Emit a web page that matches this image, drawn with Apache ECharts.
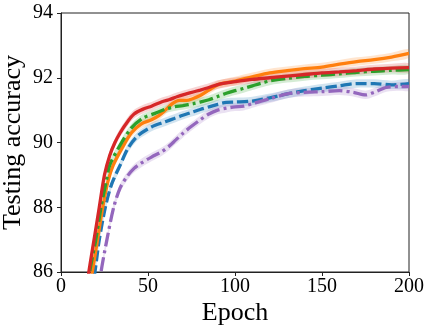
<!DOCTYPE html>
<html>
<head>
<meta charset="utf-8">
<script src="https://cdn.jsdelivr.net/npm/echarts@6/dist/echarts.min.js"></script>
<style>
  html, body { margin: 0; padding: 0; background: #fff; }
  #chart { width: 432px; height: 332px; }
</style>
</head>
<body>
<div id="chart"></div>
<script>
// epoch -> testing accuracy
const blueEpochs = [15, 19.5, 22, 25.5, 29, 34, 38.5, 44, 52, 60, 65, 70, 75, 80, 85, 90, 95, 100, 110, 120, 130, 140, 150, 160, 170, 180, 190, 200];
const blueAcc = [84.5, 86.0, 87.0, 88.0, 88.7, 89.3, 89.82, 90.2, 90.48, 90.64, 90.74, 90.84, 90.93, 91.02, 91.1, 91.18, 91.24, 91.25, 91.28, 91.38, 91.5, 91.6, 91.68, 91.75, 91.82, 91.82, 91.78, 91.82];

const orangeEpochs = [13, 18, 21, 24, 27, 30, 35, 40.5, 46, 52, 56, 60, 64, 68, 72, 76, 80, 85, 90, 95, 100, 110, 120, 130, 140, 150, 160, 170, 180, 190, 200];
const orangeAcc = [84.5, 86.0, 87.0, 88.0, 88.8, 89.3, 89.82, 90.3, 90.57, 90.7, 90.82, 91.0, 91.2, 91.3, 91.3, 91.36, 91.45, 91.62, 91.78, 91.85, 91.9, 92.03, 92.15, 92.22, 92.28, 92.33, 92.42, 92.5, 92.56, 92.64, 92.75];

const greenEpochs = [13, 16.5, 20, 23, 26, 28, 34, 40.5, 47, 54, 60, 65, 70, 76, 80, 85, 90, 95, 100, 105, 110, 115, 120, 130, 140, 150, 160, 170, 180, 190, 200];
const greenAcc = [84.5, 86.0, 87.0, 88.0, 88.8, 89.3, 89.92, 90.45, 90.75, 90.9, 91.03, 91.1, 91.14, 91.2, 91.25, 91.32, 91.42, 91.52, 91.6, 91.67, 91.75, 91.83, 91.9, 91.98, 92.04, 92.08, 92.12, 92.17, 92.2, 92.23, 92.25];

const redEpochs = [12, 16, 19, 22, 25, 28, 31, 34, 37, 42, 48, 52, 58, 62, 67, 72, 76, 80, 85, 90, 95, 100, 110, 120, 130, 140, 150, 160, 170, 180, 190, 200];
const redAcc = [84.5, 86.0, 87.0, 88.0, 89.0, 89.6, 90.0, 90.3, 90.55, 90.88, 91.05, 91.12, 91.26, 91.32, 91.42, 91.5, 91.56, 91.62, 91.7, 91.79, 91.84, 91.88, 91.95, 92.0, 92.05, 92.1, 92.15, 92.18, 92.22, 92.27, 92.3, 92.31];

const purpleEpochs = [19, 23, 26.4, 30.3, 34, 38, 42, 46, 52, 58, 62, 66, 70, 75, 80, 85, 90, 95, 100, 105, 110, 115, 120, 130, 140, 150, 160, 168, 175, 180, 187, 195, 200];
const purpleAcc = [84.5, 86.0, 87.0, 88.0, 88.6, 88.95, 89.2, 89.36, 89.55, 89.72, 89.88, 90.08, 90.28, 90.5, 90.7, 90.88, 91.0, 91.06, 91.1, 91.12, 91.2, 91.28, 91.35, 91.5, 91.55, 91.57, 91.6, 91.55, 91.47, 91.55, 91.7, 91.73, 91.73];

// half width of the shaded spread around each curve
const spread = 0.13;

const xTicks = [0, 50, 100, 150, 200];
const yTicks = [86, 88, 90, 92, 94];

const curves = [
  { name: "blue", epochs: blueEpochs, acc: blueAcc, color: "#1f77b4", dash: [11, 4] },
  { name: "orange", epochs: orangeEpochs, acc: orangeAcc, color: "#ff7f0e", dash: "solid" },
  { name: "green", epochs: greenEpochs, acc: greenAcc, color: "#2ca02c", dash: [14, 4, 3, 4] },
  { name: "red", epochs: redEpochs, acc: redAcc, color: "#d62728", dash: "solid" },
  { name: "purple", epochs: purpleEpochs, acc: purpleAcc, color: "#9467bd", dash: [14, 4, 3, 4] }
];

let series = [];
// shaded bands, polygon from upper edge then lower edge back
curves.forEach(function(c) {
  series.push({
    type: "custom",
    clip: true,
    silent: true,
    z: 1,
    data: [0],
    renderItem: function(params, api) {
      let upper = c.epochs.map((e, i) => api.coord([e, c.acc[i] + spread]));
      let lower = c.epochs.map((e, i) => api.coord([e, c.acc[i] - spread])).reverse();
      return {
        type: "polygon",
        shape: { points: upper.concat(lower), smooth: 0.3 },
        style: { fill: c.color, opacity: 0.2 }
      };
    }
  });
});
curves.forEach(function(c) {
  series.push({
    type: "line",
    symbol: "none",
    smooth: 0.3,
    z: 5,
    lineStyle: { color: c.color, width: 3.3, type: c.dash, cap: "butt" },
    data: c.epochs.map((e, i) => [e, c.acc[i]])
  });
});

const font = "Liberation Serif";
let chart = echarts.init(document.getElementById("chart"), null, { renderer: "canvas" });
chart.setOption({
  animation: false,
  grid: {
    left: 61, right: 23, top: 13, bottom: 60,
    outerBoundsMode: "none",
    containLabel: false,
    show: true, borderColor: "#222", borderWidth: 1, backgroundColor: "transparent"
  },
  xAxis: {
    type: "value",
    min: xTicks[0],
    max: xTicks[xTicks.length - 1],
    interval: 50,
    name: "Epoch",
    nameLocation: "middle",
    nameGap: 28,
    nameMoveOverlap: false,
    nameTextStyle: { fontFamily: font, fontSize: 26, color: "#000" },
    axisLine: { show: true, lineStyle: { color: "#222", width: 1 } },
    axisTick: { show: true, length: 4, lineStyle: { color: "#222" } },
    axisLabel: { fontFamily: font, fontSize: 20, color: "#000", margin: 5 },
    splitLine: { show: false }
  },
  yAxis: {
    type: "value",
    min: yTicks[0],
    max: yTicks[yTicks.length - 1],
    interval: 2,
    name: "Testing accuracy",
    nameLocation: "middle",
    nameGap: 35,
    nameMoveOverlap: false,
    nameTextStyle: { fontFamily: font, fontSize: 26, color: "#000" },
    axisLine: { show: true, lineStyle: { color: "#222", width: 1 } },
    axisTick: { show: true, length: 4, lineStyle: { color: "#222" } },
    axisLabel: { fontFamily: font, fontSize: 20, color: "#000", margin: 8 },
    splitLine: { show: false }
  },
  series: series
});
</script>
</body>
</html>
